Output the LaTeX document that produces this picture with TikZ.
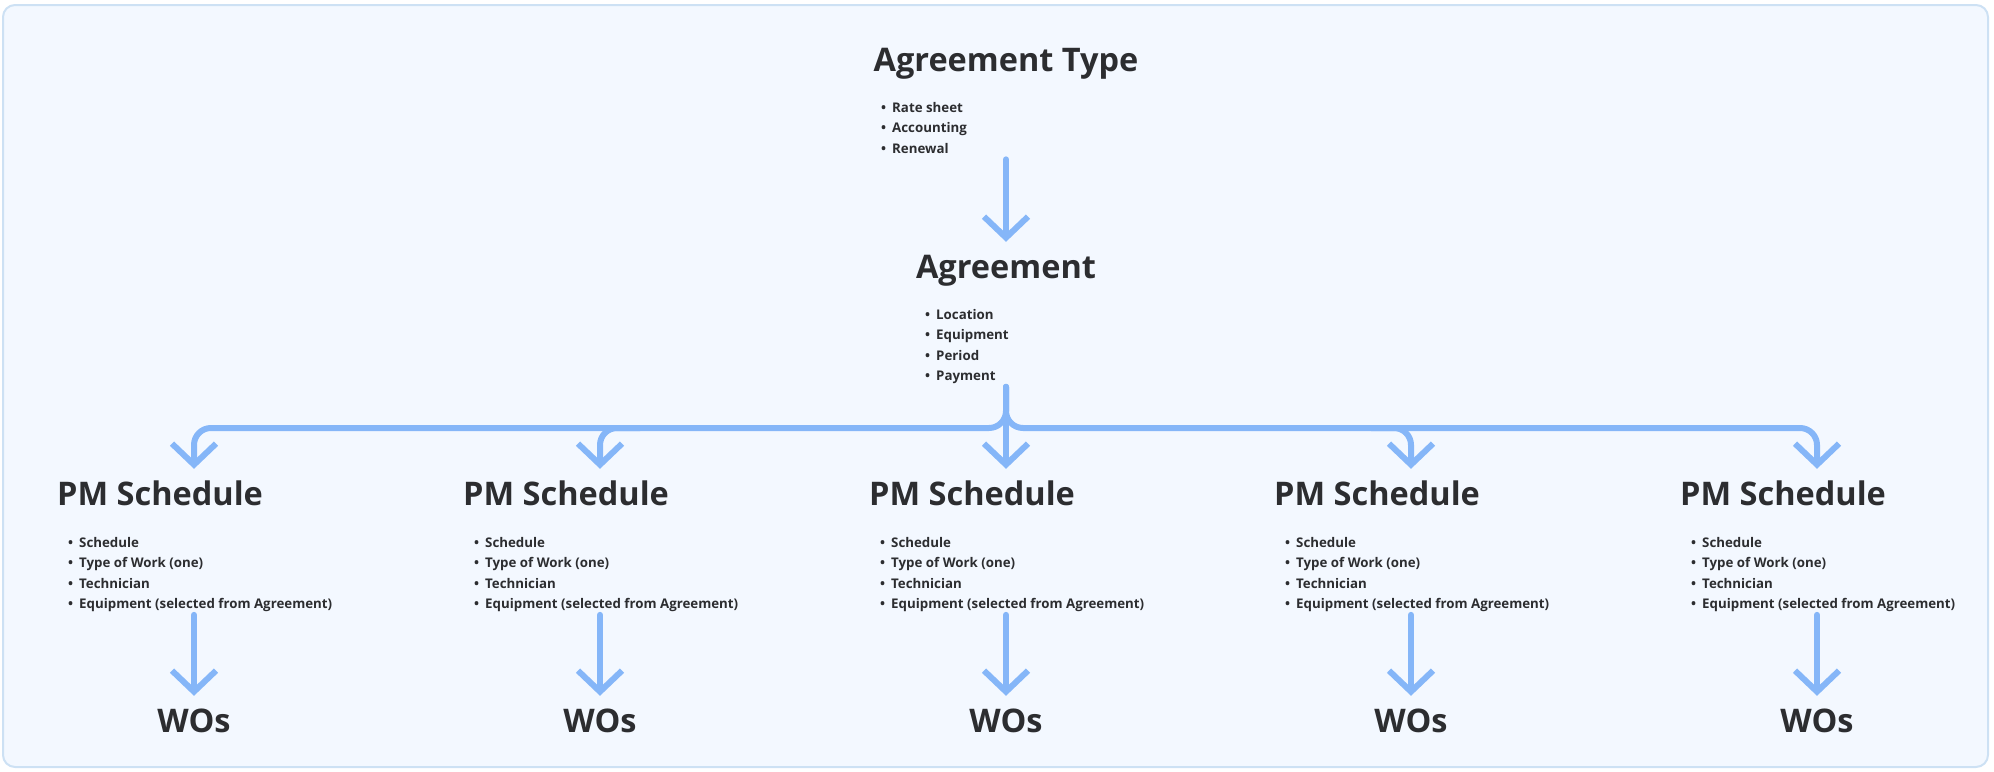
\documentclass[tikz,border=0pt]{standalone}
\usepackage{fontspec}
\setmainfont{Open Sans}
\usetikzlibrary{arrows.meta}
\definecolor{flowblue}{RGB}{133,182,248}
\definecolor{inkgray}{RGB}{44,45,48}
\definecolor{paneblue}{RGB}{243,248,255}
\definecolor{paneline}{RGB}{205,225,244}

\tikzset{
  heading/.style={anchor=base, inner sep=0pt, text=inkgray,
    font=\fontsize{32.5}{36}\selectfont\bfseries, text height=24pt, text depth=8pt},
  itembox/.style={anchor=base west, inner sep=0pt, text=inkgray,
    font=\fontsize{13.3}{20.5}\selectfont\bfseries},
  flow/.style={draw=flowblue, line width=6pt, line cap=round, line join=round,
    -{Straight Barb[length=21pt,width=44pt]}, shorten >=12pt},
}

\newcommand{\bul}{\textbullet&}

\begin{document}
\begin{tikzpicture}[x=1pt, y=-1pt]
\useasboundingbox (0,0) rectangle (1994,771);

%pane
\draw[draw=paneline, fill=paneblue, line width=2pt, rounded corners=12pt] (3,5) rectangle (1988,767);

%top
\node[heading] (atype) at (1006,71) {Agreement Type};
\node[itembox] (atypeL) at (881,112) {\begin{tabular}[t]{@{}l@{\hspace{6pt}}l@{}}
\bul Rate sheet\\ \bul Accounting\\ \bul Renewal\end{tabular}};

\node[heading] (agr) at (1006,278) {Agreement};
\node[itembox] (agrL) at (925,319) {\begin{tabular}[t]{@{}l@{\hspace{6pt}}l@{}}
\bul Location\\ \bul Equipment\\ \bul Period\\ \bul Payment\end{tabular}};

\draw[flow] (agr |- atypeL.south) -- (agr.north);
\coordinate (split) at (agr |- agrL.south);

%columns
\foreach \i/\cx in {1/194,2/600,3/1006,4/1411,5/1817}{
  \coordinate (c\i) at (\cx,428);
  \node[heading, anchor=base west] (pm\i) at (\cx-137,505) {PM Schedule};
  \node[itembox] (pmL\i) at (\cx-126,547) {\begin{tabular}[t]{@{}l@{\hspace{6pt}}l@{}}
  \bul Schedule\\ \bul Type of Work (one)\\ \bul Technician\\
  \bul Equipment (selected from Agreement)\end{tabular}};
  \node[heading] (wo\i) at (\cx,732) {WOs};
  \draw[flow] (wo\i |- pmL\i.south) -- (wo\i.north);
}

%branches
\draw[flow, rounded corners=17pt] (split) -- (split |- c1) -- (c1) -- (pm1.north -| c1);
\draw[flow, rounded corners=17pt] (split) -- (split |- c5) -- (c5) -- (pm5.north -| c5);
\draw[flow] (split) -- (pm3.north -| c3);
\draw[flow, rounded corners=17pt] ([xshift=40pt]c2) -- (c2) -- (pm2.north -| c2);
\draw[flow, rounded corners=17pt] ([xshift=-40pt]c4) -- (c4) -- (pm4.north -| c4);

\end{tikzpicture}
\end{document}
